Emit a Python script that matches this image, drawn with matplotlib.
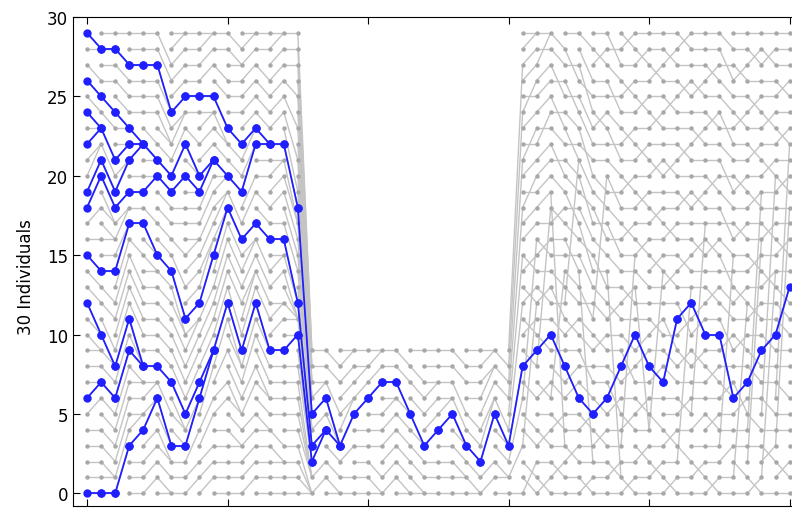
import matplotlib
matplotlib.use("Agg")
import matplotlib.pyplot as plt

# 世代 0-15：30 个个体，每行是该代每个个体在下一代中的父本编号
parents_before = [
    "0 1 2 3 4 6 7 7 8 9 9 10 10 12 13 14 16 18 20 21 22 22 23 23 23 24 25 26 28 28",
    "0 1 1 2 3 4 5 6 7 8 8 9 11 12 14 15 16 16 17 17 18 19 20 21 23 24 26 27 28 29",
    "3 4 5 6 7 8 9 10 11 12 13 14 15 16 17 17 18 18 19 21 21 22 22 23 23 24 25 26 27 29",
    "0 1 2 4 5 5 6 7 7 8 8 8 10 11 12 13 15 17 18 19 20 22 22 22 24 25 26 27 28 29",
    "1 2 3 4 6 6 7 7 8 9 10 11 12 13 14 14 15 15 17 20 20 21 21 22 24 25 26 27 28 29",
    "0 0 1 2 2 3 3 5 7 8 9 10 11 12 13 14 15 16 17 18 19 20 21 22 22 23 24 24 26 27",
    "0 1 2 3 3 4 4 5 6 7 8 9 10 10 11 13 15 17 18 20 22 23 24 24 25 26 27 28 29 29",
    "1 2 4 6 6 7 8 9 10 11 11 12 13 14 15 16 16 17 18 19 19 20 20 22 24 25 26 27 28 29",
    "1 2 3 5 6 8 9 9 10 11 12 13 15 16 16 17 18 19 20 21 21 22 23 24 24 25 27 28 29 29",
    "0 1 2 3 4 6 7 9 11 12 13 14 15 16 17 18 18 19 19 20 20 20 21 22 22 23 25 26 28 29",
    "0 1 2 3 3 4 5 5 6 7 8 8 9 10 12 13 14 15 16 17 19 20 21 22 24 25 26 27 27 28",
    "1 2 3 4 5 7 8 10 11 12 13 14 14 15 16 16 17 19 20 22 22 23 23 24 25 26 27 28 29 29",
    "0 1 2 3 4 4 5 6 6 7 8 9 9 11 12 13 14 16 17 18 20 21 22 22 23 24 25 26 28 29",
    "0 1 2 2 3 5 6 7 8 9 11 12 12 14 15 15 16 17 19 20 21 21 22 24 25 26 27 28 29 29",
    "0 1 2 3 4 5 6 7 8 10 10 11 11 11 11 12 12 14 15 16 17 17 18 19 21 23 25 27 28 29",
    "0 0 0 0 1 1 1 1 2 2 2 3 3 3 4 4 4 5 5 5 6 6 6 7 7 7 8 8 9 9",
]

# 世代 16-30：瓶颈期，只有 10 个个体
parents_bottleneck = [
    "1 2 4 4 5 6 7 7 8 9",
    "0 0 1 2 3 3 3 5 7 8",
    "0 1 3 5 6 6 7 8 9 9",
    "0 1 2 3 4 6 7 8 8 9",
    "0 0 1 3 4 5 7 8 9 9",
    "1 2 3 4 5 6 6 7 8 9",
    "0 0 1 2 3 4 5 5 7 8",
    "0 0 1 2 3 3 5 6 7 9",
    "0 1 2 4 5 6 7 7 8 9",
    "0 1 2 3 5 6 6 7 8 9",
    "0 1 1 2 3 3 4 5 7 8",
    "0 0 1 2 3 4 6 7 8 9",
    "1 2 5 6 6 7 8 8 9 9",
    "0 1 1 2 3 3 4 6 7 8",
    "0 3 6 8 12 15 18 21 24 27",
]

# 世代 31-49：恢复到 30 个个体
parents_after = [
    "2 0 1 12 3 4 16 6 9 8 11 10 13 12 15 14 17 18 20 19 21 23 22 24 26 25 27 28 29 29",
    "1 0 2 4 3 5 7 6 18 10 9 11 13 12 14 16 15 17 19 20 21 22 24 23 25 26 27 29 28 29",
    "0 2 1 3 5 4 14 6 7 9 8 10 12 11 13 15 16 18 17 3 19 21 20 22 24 23 26 25 27 28",
    "0 1 3 2 4 5 7 8 6 9 11 10 21 12 13 15 14 16 18 17 19 20 22 21 23 25 24 27 26 29",
    "1 0 2 3 5 4 5 6 8 7 9 10 12 11 2 13 15 14 16 18 17 19 21 20 22 23 25 24 26 28",
    "0 1 2 4 3 6 5 7 8 10 9 20 11 12 14 13 15 17 16 18 19 21 22 24 23 25 26 28 27 29",
    "0 2 1 3 4 6 8 5 7 9 10 12 11 13 1 14 16 15 17 19 18 20 22 21 23 25 24 26 28 27",
    "1 0 2 15 5 4 6 8 10 7 9 11 13 12 14 15 17 16 18 20 19 21 23 22 24 26 25 27 29 28",
    "0 1 3 2 4 6 5 7 9 10 8 11 12 4 13 16 15 17 19 18 20 22 21 23 25 24 26 28 27 29",
    "0 2 1 3 14 4 6 8 7 9 11 10 12 13 15 14 16 18 17 19 21 20 22 24 23 25 27 26 28 29",
    "1 0 2 4 3 5 6 11 7 8 10 9 12 14 13 15 17 16 18 19 21 20 22 23 25 24 26 28 27 29",
    "0 1 13 2 4 6 5 7 9 8 11 12 10 13 15 14 16 17 19 18 20 22 21 23 24 26 25 27 29 28",
    "0 2 1 3 5 17 6 7 9 8 11 12 10 13 14 16 15 17 19 18 20 21 23 22 24 26 25 27 28 29",
    "1 0 2 3 5 4 6 8 7 9 10 11 13 12 14 16 15 17 18 20 19 21 22 24 23 25 27 26 28 29",
    "0 1 3 15 4 5 7 6 8 10 6 9 11 12 14 13 15 17 16 18 20 19 21 23 22 24 25 27 26 28",
    "0 12 1 3 4 6 7 5 8 10 9 11 13 12 14 15 17 16 18 20 19 21 22 24 23 25 27 26 28 29",
    "1 0 16 3 19 4 6 9 7 8 10 12 11 13 15 14 16 17 19 18 20 22 21 23 25 24 26 28 27 29",
    "0 14 3 2 4 20 5 7 8 10 9 11 12 14 13 15 17 16 18 19 21 20 22 24 23 25 26 28 27 29",
    "0 2 1 18 4 5 22 6 8 9 13 10 11 12 14 16 15 17 18 20 19 21 23 22 24 26 25 27 28 29",
]

# 第 0 代的样本
sample = [0, 6, 12, 15, 18, 19, 22, 24, 26, 29]
final_size = 30

parents = [[int(v) for v in row.split()]
           for row in parents_before + parents_bottleneck + parents_after]
sizes = [len(p) for p in parents] + [final_size]

fig = plt.figure(figsize=(7.92, 5.10), dpi=100)
ax = fig.add_axes([0.0922, 0.0059, 0.9225, 0.9588])

# 灰色：所有个体与其父本的连线
for t, par in enumerate(parents):
    for i, p in enumerate(par):
        ax.plot([t, t + 1], [i, p], color='#c4c4c4', lw=1.0, zorder=1)
for t, n in enumerate(sizes):
    ax.plot([t] * n, list(range(n)), 'o', color='#a8a8a8', ms=3.2,
            mec='none', zorder=2)

# 蓝色：样本的祖先谱系
lineage = sorted(set(sample))
for t, par in enumerate(parents):
    nxt = set()
    for i in lineage:
        ax.plot([t, t + 1], [i, par[i]], color='#1f1fff', lw=1.3,
                marker='o', ms=5, mec='#1f1fff', zorder=3)
        nxt.add(par[i])
    lineage = sorted(nxt)

ax.set_xlim(-1, 51)
ax.set_ylim(-0.8, 30)
ax.set_xticks(range(0, 51, 10))
ax.set_yticks(range(0, 31, 5))
ax.tick_params(direction='in', top=True, right=True, length=5, labelsize=12)
ax.tick_params(axis='x', labelbottom=False)
ax.set_ylabel("30 Individuals", fontsize=12)
ax.yaxis.set_label_coords(-0.052, 0.47)

fig.savefig("out.png", dpi=100)
